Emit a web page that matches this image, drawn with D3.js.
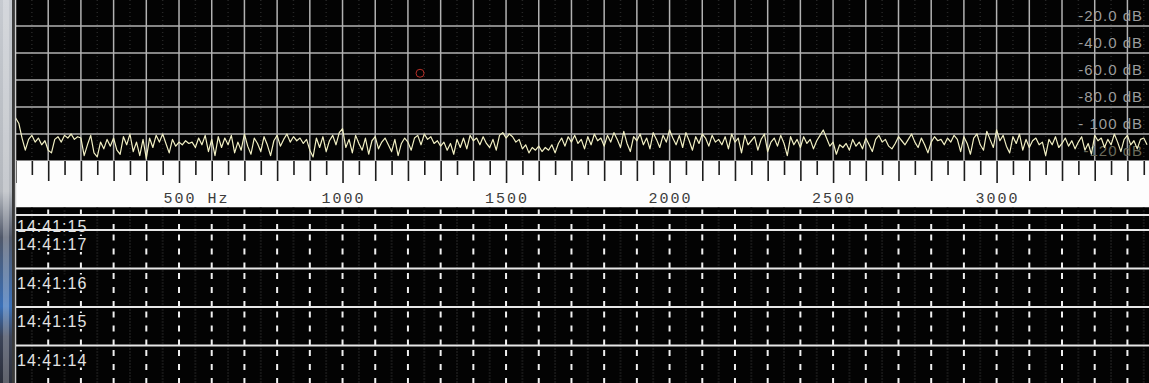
<!DOCTYPE html>
<html>
<head>
<meta charset="utf-8">
<script src="https://cdn.jsdelivr.net/npm/d3@7"></script>
<style>
  body { margin: 0; background: #000; overflow: hidden; }
  svg { display: block; }
</style>
</head>
<body>
<div id="chart"></div>
<script>
//spectrum level in dB, one value every 10 Hz starting at 0 Hz
var binHz = 10;
var spectrumDb = [
  -88, -92, -103, -112, -104, -101, -106, -103, -108, -105, -112, -114, -104, -102, -106, -101, -103, -100, -104, -102,
  -103, -116, -108, -101, -114, -117, -106, -111, -104, -109, -103, -112, -115, -102, -108, -100, -113, -106, -116, -104,
  -118, -103, -110, -101, -106, -100, -107, -114, -104, -109, -106, -108, -105, -107, -106, -110, -103, -108, -101, -113,
  -104, -116, -102, -110, -103, -108, -101, -114, -106, -112, -100, -109, -115, -103, -107, -113, -102, -108, -116, -105,
  -101, -109, -104, -100, -106, -102, -105, -103, -107, -104, -112, -117, -103, -110, -102, -113, -105, -101, -108, -99,
  -96, -110, -104, -114, -101, -107, -112, -103, -115, -105, -102, -111, -106, -103, -108, -113, -104, -116, -107, -103,
  -106, -112, -103, -101, -108, -100, -104, -102, -107, -105, -109, -106, -112, -107, -115, -104, -110, -103, -111, -101,
  -105, -103, -108, -102, -107, -110, -104, -112, -101, -99, -103, -100, -102, -106, -104, -111, -108, -114, -110, -112,
  -109, -113, -110, -112, -108, -114, -107, -103, -109, -102, -106, -101, -107, -104, -111, -102, -108, -100, -105, -103,
  -109, -101, -106, -99, -104, -110, -98, -107, -113, -102, -105, -100, -108, -103, -111, -99, -104, -110, -101, -106,
  -97, -103, -108, -101, -110, -99, -105, -112, -102, -107, -100, -103, -109, -101, -106, -104, -108, -102, -111, -100,
  -106, -103, -114, -101, -108, -105, -102, -112, -104, -100, -113, -106, -103, -109, -101, -107, -116, -102, -108, -104,
  -110, -102, -107, -104, -111, -105, -101, -97, -103, -109, -106, -115, -108, -110, -107, -112, -104, -109, -106, -111,
  -103, -108, -113, -104, -101, -106, -104, -109, -111, -107, -102, -105, -108, -104, -100, -106, -110, -103, -108, -114,
  -106, -102, -105, -104, -108, -103, -106, -101, -104, -113, -102, -107, -115, -103, -100, -108, -112, -98, -104, -110,
  -97, -105, -101, -109, -114, -102, -107, -100, -112, -104, -110, -105, -103, -108, -106, -116, -104, -108, -102, -110,
  -107, -103, -109, -105, -111, -106, -102, -112, -107, -115, -101, -105, -103, -110, -104, -108, -100, -106, -113, -104,
  -101, -108, -105, -111, -104, -103, -108
];

//level axis
var dbTicks = [-20, -40, -60, -80, -100, -120];
var dbLabels = ["-20.0 dB", "-40.0 dB", "-60.0 dB", "-80.0 dB", "- 100 dB", "-120 dB"];

//frequency axis labels
var freqLabelHz = [500, 1000, 1500, 2000, 2500, 3000];
var freqLabels = ["500 Hz", "1000", "1500", "2000", "2500", "3000"];

//red marker in the spectrum
var markerHz = [1237];
var markerDb = [-55];

//waterfall rows (seconds of 14:41:xx)
var rowSeconds = [17, 16, 15, 14, 13];
var rowLabels = ["14:41:17", "14:41:16", "14:41:15", "14:41:14"];
var cursorSecond = 17.39;
var cursorLabel = "14:41:15";

//layout
var W = 1149, H = 383;
var plotLeft = 15.5;
var specBottom = 161;
var bandBottom = 207.5;

var x = d3.scaleLinear().domain([0, 3466]).range([plotLeft, W]);
var y = d3.scaleLinear().domain([0, -120]).range([-1, specBottom]);
var t = d3.scaleLinear().domain([17, 13]).range([230, 384]);

var svg = d3.select("#chart").append("svg")
  .attr("width", W).attr("height", H);

svg.append("rect").attr("width", W).attr("height", H).attr("fill", "#030303");

//window frame on the left
var defs = svg.append("defs");
var grad = defs.append("linearGradient").attr("id", "frame")
  .attr("x1", 0).attr("y1", 0).attr("x2", 0).attr("y2", 1);
[[0, "#c6cad0"], [0.5, "#b4b8be"], [0.62, "#50586a"], [0.8, "#3a70b8"], [0.88, "#3c4458"], [1, "#2a2e3a"]]
  .forEach(function(s) { grad.append("stop").attr("offset", s[0]).attr("stop-color", s[1]); });
svg.append("rect").attr("x", 0).attr("y", 0).attr("width", 13).attr("height", H).attr("fill", "url(#frame)");
svg.append("rect").attr("x", 3).attr("y", 0).attr("width", 6).attr("height", H)
  .attr("fill", "#ffffff").attr("opacity", 0.25);
svg.append("rect").attr("x", 12).attr("y", 0).attr("width", 2.5).attr("height", H).attr("fill", "#3a3a3a");

/* ---------- spectrum panel ---------- */
var gridHz = d3.range(100, 3466, 100);
var halfHz = d3.range(50, 3466, 100);

//faint dotted half grid
svg.append("g").selectAll("line").data(halfHz).join("line")
  .attr("x1", function(d) { return x(d); }).attr("x2", function(d) { return x(d); })
  .attr("y1", 0).attr("y2", specBottom)
  .attr("stroke", "#262626").attr("stroke-width", 1.5).attr("stroke-dasharray", "1 3");

svg.append("g").selectAll("line").data(gridHz).join("line")
  .attr("x1", function(d) { return x(d); }).attr("x2", function(d) { return x(d); })
  .attr("y1", 0).attr("y2", specBottom)
  .attr("stroke", "#b2b2b2").attr("stroke-width", 1.5);

svg.append("g").selectAll("line").data(dbTicks).join("line")
  .attr("x1", plotLeft).attr("x2", W)
  .attr("y1", function(d) { return y(d); }).attr("y2", function(d) { return y(d); })
  .attr("stroke", "#b2b2b2").attr("stroke-width", 1.5);

//level labels
svg.append("g").selectAll("text").data(dbTicks).join("text")
  .attr("x", 1143)
  .attr("y", function(d) { return y(d) - 5; })
  .attr("text-anchor", "end")
  .attr("font-family", "Liberation Sans, Arial, sans-serif")
  .attr("font-size", 15)
  .attr("letter-spacing", 1)
  .attr("fill", function(d, i) { return i == dbTicks.length - 1 ? "#6a6a5a" : "#9c9c9c"; })
  .text(function(d, i) { return dbLabels[i]; });

//marker
svg.append("g").selectAll("circle").data(markerHz).join("circle")
  .attr("cx", function(d) { return x(d); })
  .attr("cy", function(d, i) { return y(markerDb[i]); })
  .attr("r", 4)
  .attr("fill", "none")
  .attr("stroke", "#b83028")
  .attr("stroke-width", 1);

//spectrum trace
var line = d3.line()
  .x(function(d, i) { return x(i * binHz); })
  .y(function(d) { return y(d); });

svg.append("path").datum(spectrumDb)
  .attr("d", line)
  .attr("fill", "none")
  .attr("stroke", "#f2f0c4")
  .attr("stroke-width", 1.2)
  .attr("stroke-linejoin", "round");

/* ---------- frequency band ---------- */
svg.append("rect").attr("x", plotLeft).attr("y", specBottom)
  .attr("width", W - plotLeft).attr("height", bandBottom - specBottom)
  .attr("fill", "#fdfdfd");

var bandAxis = d3.axisBottom(x)
  .tickValues(d3.range(0, 3466, 50))
  .tickSize(14)
  .tickFormat("");

var ga = svg.append("g").attr("transform", "translate(0," + specBottom + ")").call(bandAxis);
ga.select(".domain").remove();
ga.selectAll(".tick line")
  .attr("y2", function(d) { return d % 500 == 0 ? 22 : (d % 100 == 0 ? 20 : 14); })
  .attr("stroke", "#1c1c1c")
  .attr("stroke-width", 1.6);

//frequency labels, number centred on its tick
var measure = svg.append("text")
  .attr("font-family", "Liberation Mono, Courier New, monospace")
  .attr("font-size", 15).attr("letter-spacing", 2);

svg.append("g").selectAll("text").data(freqLabelHz).join("text")
  .attr("x", function(d) {
    measure.text(String(d));
    return x(d) - (measure.node().getComputedTextLength() - 2) / 2;
  })
  .attr("y", 202.5)
  .attr("font-family", "Liberation Mono, Courier New, monospace")
  .attr("font-size", 15)
  .attr("letter-spacing", 2)
  .attr("fill", "#3c3c3c")
  .text(function(d, i) { return freqLabels[i]; });
measure.remove();

/* ---------- waterfall ---------- */
var rowEdges = [bandBottom, t(cursorSecond)].concat(rowSeconds.map(function(s) { return t(s); }));
var rows = d3.range(rowEdges.length - 1).map(function(i) { return [rowEdges[i], rowEdges[i + 1]]; });

//faint dotted half grid
svg.append("g").selectAll("line").data(halfHz).join("line")
  .attr("x1", function(d) { return x(d); }).attr("x2", function(d) { return x(d); })
  .attr("y1", bandBottom).attr("y2", H)
  .attr("stroke", "#2a2a2a").attr("stroke-width", 2).attr("stroke-dasharray", "1 2");

//dashed columns, dashes aligned to the bottom of each row
var cols = svg.append("g");
rows.forEach(function(r) {
  cols.append("g").selectAll("line").data(gridHz).join("line")
    .attr("x1", function(d) { return x(d); }).attr("x2", function(d) { return x(d); })
    .attr("y1", r[1]).attr("y2", r[0])
    .attr("stroke", "#f0f0f0").attr("stroke-width", 2)
    .attr("stroke-dasharray", "6 8");
});

//time labels
var labelData = [{ sec: cursorSecond, text: cursorLabel, dy: 17 }].concat(
  rowLabels.map(function(l, i) { return { sec: rowSeconds[i], text: l, dy: 20 }; }));

svg.append("g").selectAll("rect").data(labelData).join("rect")
  .attr("x", plotLeft + 1).attr("y", function(d) { return t(d.sec) + d.dy - 14; })
  .attr("width", 72).attr("height", 16)
  .attr("fill", "#030303");

svg.append("g").selectAll("text").data(labelData).join("text")
  .attr("x", 17)
  .attr("y", function(d) { return t(d.sec) + d.dy; })
  .attr("font-family", "Liberation Sans, Arial, sans-serif")
  .attr("font-size", 16)
  .attr("letter-spacing", 1)
  .attr("fill", "#e4e4e4")
  .text(function(d) { return d.text; });

//row lines
svg.append("g").selectAll("line").data(rowEdges.slice(1)).join("line")
  .attr("x1", plotLeft).attr("x2", W)
  .attr("y1", function(d) { return d; }).attr("y2", function(d) { return d; })
  .attr("stroke", "#e6e6e6").attr("stroke-width", 2);

svg.append("line")
  .attr("x1", plotLeft).attr("x2", W).attr("y1", bandBottom + 1).attr("y2", bandBottom + 1)
  .attr("stroke", "#000").attr("stroke-width", 2);

//left border of the plot
svg.append("line")
  .attr("x1", plotLeft).attr("x2", plotLeft).attr("y1", 0).attr("y2", H)
  .attr("stroke", "#cfcfcf").attr("stroke-width", 1.5);
</script>
</body>
</html>
